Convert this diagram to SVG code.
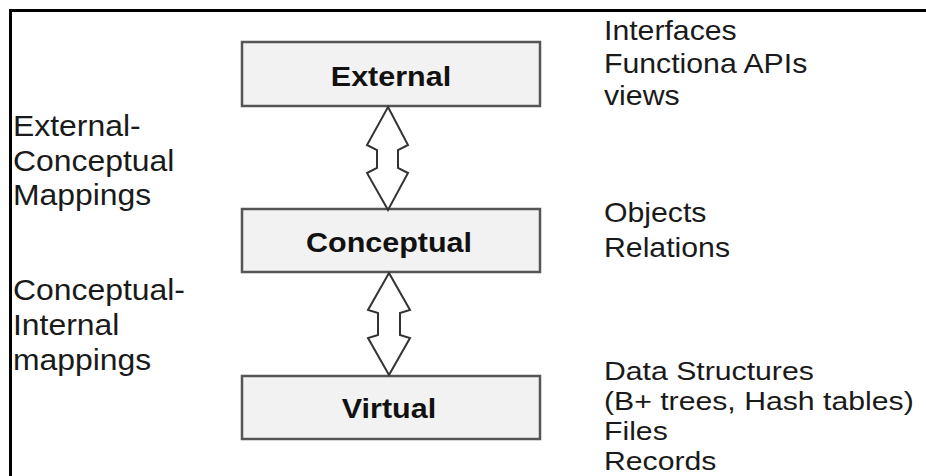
<svg xmlns="http://www.w3.org/2000/svg" width="926" height="476" viewBox="0 0 926 476">
  <style>
    .frame { stroke: #000; stroke-width: 3; fill: none; }
    .box { fill: #f2f2f2; stroke: #555; stroke-width: 2.5; }
    .title { font-family: "Liberation Sans", Arial, sans-serif; font-weight: bold; font-size: 28px; fill: #111; }
    .label { font-family: "Liberation Sans", Arial, sans-serif; font-size: 29px; fill: #1a1a1a; }
    .note { font-family: "Liberation Sans", Arial, sans-serif; font-size: 28px; fill: #1a1a1a; }
    .note-sm { font-family: "Liberation Sans", Arial, sans-serif; font-size: 26.5px; fill: #1a1a1a; }
    .dbl { fill: #fff; stroke: #333; stroke-width: 2; stroke-linejoin: miter; }
  </style>

  <rect width="926" height="476" fill="#fff"/>

  <!-- page frame: top and left rules -->
  <path class="frame" d="M10.5 476 V10.5 H926"/>

  <!-- level boxes -->
  <g id="external">
    <rect class="box" x="242" y="42" width="298" height="64"/>
    <text class="title" text-anchor="middle" transform="translate(391,86) scale(1.09,1)">External</text>
  </g>
  <g id="conceptual">
    <rect class="box" x="242" y="209" width="298" height="63"/>
    <text class="title" text-anchor="middle" transform="translate(389,252) scale(1.09,1)">Conceptual</text>
  </g>
  <g id="virtual">
    <rect class="box" x="242" y="376" width="298" height="63"/>
    <text class="title" text-anchor="middle" transform="translate(389,418) scale(1.09,1)">Virtual</text>
  </g>

  <!-- two-way block arrows between levels -->
  <g id="connectors">
    <polygon class="dbl" points="388,107 408,145 398,150 398,168 408,173 388,210 367,173 377,168 377,150 367,145"/>
    <polygon class="dbl" points="389,273 410,310 400,313 400,335 410,338 389,375 368,338 378,335 378,313 368,310"/>
  </g>

  <!-- mapping labels -->
  <g id="mapping-labels">
    <text class="label" transform="translate(13,136) scale(1.1,1)">External-</text>
    <text class="label" transform="translate(13,170.5) scale(1.1,1)">Conceptual</text>
    <text class="label" transform="translate(13,205) scale(1.1,1)">Mappings</text>
    <text class="label" transform="translate(13,300) scale(1.1,1)">Conceptual-</text>
    <text class="label" transform="translate(13,335) scale(1.1,1)">Internal</text>
    <text class="label" transform="translate(13,370) scale(1.1,1)">mappings</text>
  </g>

  <!-- level contents -->
  <g id="external-notes">
    <text class="note" transform="translate(604,40) scale(1.08,1)">Interfaces</text>
    <text class="note" transform="translate(604,72.5) scale(1.08,1)">Functiona APIs</text>
    <text class="note" transform="translate(604,105) scale(1.08,1)">views</text>
  </g>
  <g id="conceptual-notes">
    <text class="note" transform="translate(604,222) scale(1.08,1)">Objects</text>
    <text class="note" transform="translate(604,257) scale(1.08,1)">Relations</text>
  </g>
  <g id="virtual-notes">
    <text class="note-sm" transform="translate(604,380) scale(1.14,1)">Data Structures</text>
    <text class="note-sm" transform="translate(604,410) scale(1.14,1)">(B+ trees, Hash tables)</text>
    <text class="note-sm" transform="translate(604,440) scale(1.14,1)">Files</text>
    <text class="note-sm" transform="translate(604,470) scale(1.14,1)">Records</text>
  </g>
</svg>
